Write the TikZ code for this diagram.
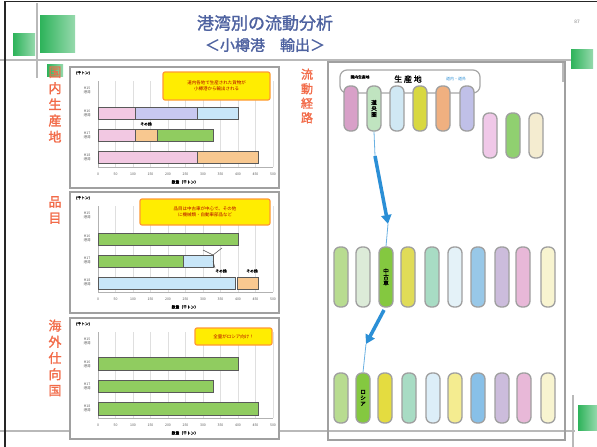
\documentclass[tikz,border=0pt]{standalone}
\usepackage{fontspec}
\newfontfamily\cjk{Noto Sans CJK JP}
\newfontfamily\cjkb{Noto Sans CJK JP}[FakeBold=1.5]
\usetikzlibrary{arrows.meta}
\definecolor{titleblue}{HTML}{4E62A0}
\definecolor{labred}{HTML}{F26A48}
\definecolor{frame}{HTML}{A0A0A0}
\definecolor{gsq}{HTML}{2DB35A}
\definecolor{arr}{HTML}{2B8FD6}
\definecolor{bpink}{HTML}{F2C8E2}
\definecolor{blav}{HTML}{C8C8F0}
\definecolor{bblue}{HTML}{C8E6F8}
\definecolor{borange}{HTML}{F8C890}
\definecolor{bgreen}{HTML}{90CC60}
\tikzset{
  deco/.style={draw=gray!55, line width=1.8pt},
  greensq/.style={left color=gsq, right color=gsq!50, draw=none},
  panelbox/.style={draw=frame, line width=1.4pt, fill=white},
  grid line/.style={draw=gray!25, line width=0.4pt},
  bar/.style={draw=gray!70!black, line width=0.6pt},
  callout/.style={draw=orange!80, line width=1.2pt, fill=yellow!95!orange, rounded corners=2pt},
  tiny/.style={font=\cjk\fontsize{3.5}{4}\selectfont, text=gray!70!black, inner sep=0pt},
  tinyb/.style={font=\cjkb\fontsize{3.8}{4.2}\selectfont, text=black, inner sep=0pt},
  calltext/.style={font=\cjk\fontsize{4.5}{6}\selectfont, text=red!70!black, align=center, inner sep=0pt},
  sidelab/.style={font=\cjkb\fontsize{13}{16.2}\selectfont, text=labred, align=center, inner sep=0pt},
  pill/.style={draw=gray!75, line width=1.3pt, rounded corners=6pt, minimum width=14pt, inner sep=0pt},
  toprow/.style={pill, minimum height=45pt},
  midrow/.style={pill, minimum height=60pt},
  botrow/.style={pill, minimum height=50pt},
  thinarrow/.style={draw=arr!70, line width=0.8pt},
  thickarrow/.style={draw=arr, line width=3.5pt, -{Triangle[length=9pt,width=10pt]}},
}
\begin{document}
\begin{tikzpicture}[x=1pt, y=-1pt]
\useasboundingbox (0,0) rectangle (597,447);
\fill[white] (0,0) rectangle (597,447);
% decorations
\draw[deco] (0,60) -- (572,60);
\draw[deco] (0,431) -- (575,431);
\draw[deco] (37,3) -- (37,78);
\draw[deco] (563,60) -- (563,82);
\draw[deco] (573,395) -- (573,447);
\fill[greensq] (40,15) rectangle (75,52);
\fill[greensq] (13,33) rectangle (35,55);
\fill[greensq] (571,49) rectangle (593,68);
\fill[greensq] (578,405) rectangle (597,430);
\fill[greensq] (47,64) rectangle (63,76);
\draw[gray!30!black, line width=1.5pt] (5,447) -- (5,1.5) -- (597,1.5);
% title
\node[font=\cjkb\fontsize{17}{19}\selectfont, text=titleblue] (title1) at (265,23) {港湾別の流動分析};
\node[font=\cjkb\fontsize{15}{17}\selectfont, text=titleblue] (title2) at (265,45) {＜小樽港　輸出＞};
\node[font=\sffamily\fontsize{5}{6}\selectfont, text=gray] (pageno) at (577,22) {87};
% side labels
\node[sidelab] (lab1) at (55,104.5) {国\\内\\生\\産\\地};
\node[sidelab] (lab2) at (55,210) {品\\目};
\node[sidelab] (lab3) at (55,358) {海\\外\\仕\\向\\国};
\node[font=\cjkb\fontsize{12}{14.5}\selectfont, text=labred, align=center, inner sep=0pt] (lab4) at (307,96) {流\\動\\経\\路};
% ---------- chart panels ----------
\foreach \py/\pid in {67/1,192/2,318/3}{
  \begin{scope}[shift={(0,\py)}]
    \draw[panelbox] (70,0) rectangle (279,121);
    \foreach \i in {0,...,10}{
      \draw[grid line] ({98+17.5*\i},14) -- ({98+17.5*\i},100);
      \pgfmathtruncatemacro{\tv}{50*\i}
      \node[tiny] (tick\pid-\i) at ({98+17.5*\i},107) {\tv};
    }
    \draw[gray!60, line width=0.5pt] (98,14) -- (98,100) -- (273,100);
    \node[tinyb] (head\pid) at (83,6) {(千トン)};
    \node[tinyb] (axis\pid) at (185,115) {数量（千トン）};
    \node[tiny, align=center] (r\pid-1) at (87,23) {H15\\港湾};
    \node[tiny, align=center] (r\pid-2) at (87,46) {H16\\港湾};
    \node[tiny, align=center] (r\pid-3) at (87,68) {H17\\港湾};
    \node[tiny, align=center] (r\pid-4) at (87,90) {H18\\港湾};
  \end{scope}
}
% panel 1 bars
\begin{scope}[shift={(0,67)}]
  \filldraw[bar, fill=bpink] (98,40) rectangle (135,52);
  \filldraw[bar, fill=blav] (135,40) rectangle (197,52);
  \filldraw[bar, fill=bblue] (197,40) rectangle (238,52);
  \filldraw[bar, fill=bpink] (98,62) rectangle (135,74);
  \filldraw[bar, fill=borange] (135,62) rectangle (157,74);
  \filldraw[bar, fill=bgreen] (157,62) rectangle (213,74);
  \filldraw[bar, fill=bpink] (98,84) rectangle (197,96);
  \filldraw[bar, fill=borange] (197,84) rectangle (258,96);
  \node[tinyb] (p1s) at (146,57) {その他};
  \draw[callout] (163,5) rectangle (270,33);
  \node[calltext] (call1) at (216.5,19) {道内各地で生産された貨物が\\小樽港から輸出される};
\end{scope}
% panel 2 bars
\begin{scope}[shift={(0,192)}]
  \filldraw[bar, fill=bgreen] (98,41) rectangle (238,53);
  \filldraw[bar, fill=bgreen] (98,63) rectangle (183,75);
  \filldraw[bar, fill=bblue] (183,63) rectangle (213,75);
  \filldraw[bar, fill=bblue] (98,85) rectangle (235,97);
  \filldraw[bar, fill=borange] (237,85) rectangle (258,97);
  \draw[gray!60!black, line width=0.5pt] (213,63) -- (203,58);
  \draw[gray!60!black, line width=0.5pt] (213,63) -- (222,56);
  \draw[gray!60!black, line width=0.5pt] (213,69) -- (215,76);
  \node[tinyb] (p2a) at (221,79) {その他};
  \node[tinyb] (p2b) at (252,79) {その他};
  \draw[callout] (140,7) rectangle (270,33);
  \node[calltext] (call2) at (205,20) {品目は中古車が中心で、その他\\に機械類・自動車部品など};
\end{scope}
% panel 3 bars
\begin{scope}[shift={(0,318)}]
  \filldraw[bar, fill=bgreen] (98,39) rectangle (238,52);
  \filldraw[bar, fill=bgreen] (98,62) rectangle (213,74);
  \filldraw[bar, fill=bgreen] (98,84) rectangle (258,97);
  \draw[callout] (195,10) rectangle (272,27);
  \node[calltext] (call3) at (233.5,18.5) {全量がロシア向け！};
\end{scope}
% ---------- flow panel ----------
\draw[frame, line width=2pt] (328,62) rectangle (565,440);
\draw[draw=gray!70, line width=1.2pt, fill=white, rounded corners=7pt] (340,70) rectangle (480,93);
\node[tinyb] (hdr1) at (360,77) {国内生産地};
\node[font=\cjkb\fontsize{8}{9}\selectfont, inner sep=0pt] (hdr2) at (408,79) {生 産 地};
\node[font=\cjk\fontsize{4}{5}\selectfont, text=arr, inner sep=0pt] (hdr3) at (456,79) {道内・道外};
% top row
\node[toprow, fill={rgb,255:red,216;green,160;blue,200}] (t1) at (351,108.5) {};
\node[toprow, fill={rgb,255:red,192;green,228;blue,192}, font=\cjkb\fontsize{5.5}{6}\selectfont, align=center] (t2) at (374,108.5) {道\\央\\圏};
\node[toprow, fill={rgb,255:red,208;green,232;blue,244}] (t3) at (397,108.5) {};
\node[toprow, fill={rgb,255:red,216;green,216;blue,64}] (t4) at (420,108.5) {};
\node[toprow, fill={rgb,255:red,240;green,176;blue,128}] (t5) at (443,108.5) {};
\node[toprow, fill={rgb,255:red,192;green,192;blue,232}] (t6) at (467,108.5) {};
\node[toprow, fill={rgb,255:red,240;green,200;blue,232}] (t7) at (490,135.5) {};
\node[toprow, fill={rgb,255:red,144;green,208;blue,112}] (t8) at (513,135.5) {};
\node[toprow, fill={rgb,255:red,244;green,236;blue,208}] (t9) at (536,135.5) {};
% middle row
\node[midrow, fill={rgb,255:red,184;green,220;blue,144}] (m1) at (341,277) {};
\node[midrow, fill={rgb,255:red,220;green,235;blue,216}] (m2) at (363,277) {};
\node[midrow, fill={rgb,255:red,132;green,200;blue,64}, font=\cjkb\fontsize{5.5}{6}\selectfont, align=center] (m3) at (386,277) {中\\古\\車};
\node[midrow, fill={rgb,255:red,224;green,220;blue,88}] (m4) at (408,277) {};
\node[midrow, fill={rgb,255:red,168;green,220;blue,196}] (m5) at (432,277) {};
\node[midrow, fill={rgb,255:red,228;green,242;blue,248}] (m6) at (455,277) {};
\node[midrow, fill={rgb,255:red,152;green,200;blue,232}] (m7) at (478,277) {};
\node[midrow, fill={rgb,255:red,204;green,188;blue,220}] (m8) at (502,277) {};
\node[midrow, fill={rgb,255:red,232;green,184;blue,216}] (m9) at (523,277) {};
\node[midrow, fill={rgb,255:red,248;green,244;blue,208}] (m10) at (548,277) {};
% bottom row
\node[botrow, fill={rgb,255:red,184;green,220;blue,144}] (b1) at (341,398) {};
\node[botrow, fill={rgb,255:red,132;green,200;blue,64}, font=\cjkb\fontsize{5.5}{6}\selectfont, align=center] (b2) at (363,398) {ロ\\シ\\ア};
\node[botrow, fill={rgb,255:red,228;green,220;blue,64}] (b3) at (385,398) {};
\node[botrow, fill={rgb,255:red,168;green,220;blue,196}] (b4) at (409,398) {};
\node[botrow, fill={rgb,255:red,220;green,238;blue,248}] (b5) at (433,398) {};
\node[botrow, fill={rgb,255:red,244;green,236;blue,144}] (b6) at (455,398) {};
\node[botrow, fill={rgb,255:red,136;green,192;blue,232}] (b7) at (478,398) {};
\node[botrow, fill={rgb,255:red,204;green,188;blue,220}] (b8) at (502,398) {};
\node[botrow, fill={rgb,255:red,232;green,184;blue,216}] (b9) at (524,398) {};
\node[botrow, fill={rgb,255:red,248;green,244;blue,208}] (b10) at (548,398) {};
% flow arrows
\coordinate (a1s) at (375,156);
\coordinate (a1e) at (388,224);
\coordinate (a2s) at (384,310);
\coordinate (a2e) at (366,344);
\draw[thinarrow] (t2.south) -- (a1s);
\draw[thickarrow] (a1s) -- (a1e);
\draw[thinarrow] (a1e) -- (m3.north);
\draw[thickarrow] (a2s) -- (a2e);
\draw[thinarrow] (a2e) -- (b2.north);
\end{tikzpicture}
\end{document}
